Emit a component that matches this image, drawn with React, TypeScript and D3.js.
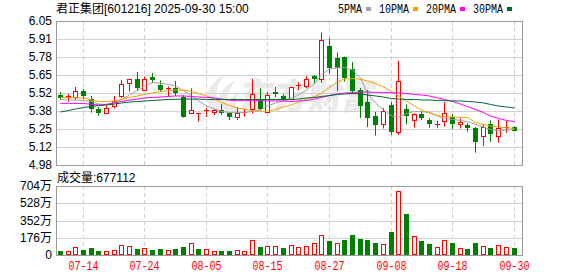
import React from 'react';
import * as d3 from 'd3';

const dates = ['07-09','07-10','07-11','07-14','07-15','07-16','07-17','07-18','07-21','07-22','07-23','07-24','07-25','07-28','07-29','07-30','07-31','08-01','08-04','08-05','08-06','08-07','08-08','08-11','08-12','08-13','08-14','08-15','08-18','08-19','08-20','08-21','08-22','08-25','08-26','08-27','08-28','08-29','09-01','09-02','09-03','09-04','09-05','09-08','09-09','09-10','09-11','09-12','09-15','09-16','09-17','09-18','09-19','09-22','09-23','09-24','09-25','09-26','09-29','09-30'];

const opens = [5.500,5.486,5.483,5.530,5.474,5.396,5.370,5.422,5.493,5.587,5.617,5.540,5.634,5.572,5.545,5.550,5.488,5.370,5.364,5.381,5.376,5.389,5.363,5.334,5.370,5.394,5.468,5.376,5.525,5.496,5.474,5.569,5.567,5.645,5.617,5.864,5.777,5.785,5.690,5.537,5.448,5.344,5.288,5.426,5.227,5.394,5.312,5.357,5.314,5.281,5.307,5.337,5.285,5.277,5.257,5.192,5.282,5.192,5.259,5.265];
const highs = [5.522,5.507,5.560,5.545,5.493,5.411,5.421,5.493,5.612,5.620,5.671,5.636,5.664,5.608,5.563,5.604,5.498,5.550,5.364,5.400,5.394,5.433,5.369,5.411,5.398,5.620,5.550,5.522,5.560,5.508,5.562,5.595,5.641,5.650,5.964,5.920,5.816,5.786,5.745,5.552,5.537,5.374,5.404,5.448,5.753,5.430,5.364,5.381,5.327,5.309,5.450,5.359,5.327,5.290,5.262,5.281,5.311,5.318,5.307,5.268];
const lows = [5.463,5.450,5.463,5.470,5.369,5.346,5.361,5.400,5.478,5.526,5.534,5.532,5.593,5.522,5.493,5.493,5.332,5.367,5.302,5.337,5.352,5.352,5.314,5.314,5.339,5.364,5.385,5.369,5.485,5.463,5.463,5.537,5.552,5.587,5.593,5.656,5.530,5.600,5.508,5.329,5.262,5.199,5.251,5.203,5.203,5.282,5.257,5.314,5.257,5.253,5.265,5.248,5.251,5.227,5.071,5.121,5.151,5.146,5.220,5.228];
const closes = [5.476,5.490,5.530,5.491,5.394,5.370,5.407,5.453,5.582,5.617,5.554,5.617,5.612,5.537,5.552,5.513,5.339,5.389,5.364,5.385,5.387,5.369,5.333,5.366,5.374,5.508,5.394,5.498,5.509,5.474,5.556,5.572,5.617,5.622,5.909,5.699,5.702,5.624,5.530,5.416,5.329,5.277,5.381,5.227,5.604,5.346,5.357,5.332,5.282,5.285,5.364,5.282,5.300,5.255,5.153,5.260,5.208,5.253,5.262,5.230];
// volume in 万
const volumes = [44,41,82,54,75,44,41,51,102,92,65,71,54,65,51,65,85,122,65,61,41,44,44,51,41,153,85,92,92,75,102,82,92,122,204,146,122,156,207,167,156,126,112,238,653,422,194,146,116,82,153,126,71,65,126,92,75,102,82,67.7112];

const ma5 = [5.467,5.463,5.463,5.459,5.452,5.433,5.430,5.444,5.467,5.500,5.534,5.567,5.593,5.589,5.578,5.567,5.534,5.493,5.456,5.418,5.396,5.378,5.370,5.369,5.370,5.378,5.389,5.418,5.441,5.456,5.478,5.500,5.537,5.586,5.652,5.693,5.703,5.704,5.686,5.626,5.515,5.441,5.389,5.344,5.337,5.363,5.378,5.375,5.372,5.344,5.326,5.320,5.311,5.302,5.281,5.262,5.244,5.236,5.240,5.245];
const ma10 = [5.482,5.482,5.479,5.478,5.463,5.452,5.450,5.456,5.467,5.482,5.493,5.504,5.515,5.525,5.532,5.537,5.537,5.526,5.511,5.493,5.470,5.444,5.422,5.404,5.394,5.385,5.378,5.381,5.392,5.411,5.426,5.448,5.470,5.489,5.511,5.556,5.597,5.619,5.623,5.617,5.604,5.586,5.560,5.526,5.493,5.456,5.418,5.389,5.366,5.348,5.340,5.337,5.334,5.333,5.296,5.281,5.270,5.262,5.256,5.253];
const ma20 = [5.438,5.438,5.438,5.437,5.431,5.426,5.430,5.441,5.452,5.463,5.470,5.478,5.482,5.485,5.489,5.493,5.493,5.489,5.485,5.483,5.478,5.470,5.461,5.458,5.458,5.458,5.458,5.456,5.456,5.456,5.452,5.456,5.459,5.470,5.482,5.496,5.508,5.515,5.517,5.522,5.522,5.520,5.519,5.517,5.515,5.511,5.504,5.500,5.493,5.478,5.467,5.452,5.433,5.415,5.392,5.370,5.344,5.326,5.311,5.302];
const ma30 = [5.374,5.385,5.396,5.407,5.415,5.422,5.426,5.433,5.441,5.448,5.452,5.456,5.459,5.463,5.467,5.468,5.470,5.470,5.470,5.467,5.467,5.467,5.467,5.467,5.467,5.467,5.467,5.467,5.467,5.467,5.467,5.470,5.478,5.482,5.489,5.496,5.504,5.508,5.511,5.508,5.500,5.493,5.485,5.474,5.470,5.467,5.467,5.463,5.463,5.459,5.459,5.456,5.456,5.452,5.448,5.441,5.430,5.418,5.411,5.404];

const priceTickLabels = ['6.05','5.91','5.78','5.65','5.52','5.38','5.25','5.12','4.98'];
const volTicks = [704, 528, 352, 176, 0];
const xTickDates = ['07-14','07-24','08-05','08-15','08-27','09-08','09-18','09-30'];
const legendLabels = ['5PMA','10PMA','20PMA','30PMA'];
const title = '君正集团[601216] 2025-09-30 15:00';
const volumeLabel = '成交量:677112';

const RED = '#ff0000';
const GREEN = '#008000';
const MA_COLORS = ['#a0a0a0', '#f5a300', '#ff00ff', '#006633'];
const FRAME = '#999999';
const GRID = '#d0d0d0';
const SANS = '"Liberation Sans", Arial, "Noto Sans CJK SC", sans-serif';
const MONO = '"Liberation Mono", "DejaVu Sans Mono", monospace';

export default function App() {
  const pMin = 4.98, pMax = 6.05;
  const x = d3.scaleBand<string>().domain(dates).range([56.5, 517.9]);
  const col = (i: number) => Math.floor((x(dates[i]) as number) + x.bandwidth() / 2);
  const y = d3.scaleLinear().domain([pMin, pMax]).range([165, 21]);
  const yv = d3.scaleLinear().domain([0, 704]).range([255, 186]);
  const r = (v: number) => Math.round(v);

  const left = 56, right = 522;
  const pTop = r(y(pMax)), pBot = r(y(pMin));
  const vTop = r(yv(704)), vBot = r(yv(0));

  const maSeries = [ma5, ma10, ma20, ma30];
  const line = d3.line<number>().x((_, i) => col(i) + 0.5).y((v) => y(v));

  const step = (pMax - pMin) / (priceTickLabels.length - 1);

  // legend layout
  let lx = 338;
  const legendItems = legendLabels.map((lab, i) => {
    const w = lab.length * 6;
    const item = { lab, x: lx, w, sq: lx + w + 4, color: MA_COLORS[i] };
    lx = lx + w + 4 + 5 + 8;
    return item;
  });

  return (
    <svg width={578} height={276} style={{ position: 'absolute', left: 0, top: 0, background: '#fff' }}>
      <rect x={0} y={0} width={578} height={276} fill="#fff" />
      {/* title */}
      <text x={56} y={13} fontFamily={SANS} fontSize={12} fill="#000">{title}</text>
      {/* legend */}
      {legendItems.map((it) => (
        <g key={it.lab}>
          <text x={it.x} y={12.5} fontFamily={MONO} fontSize={12} textLength={it.w} lengthAdjust="spacingAndGlyphs" fill="#000">{it.lab}</text>
          <rect x={it.sq} y={7} width={5} height={4} fill={it.color} />
        </g>
      ))}

      {/* watermark */}
      <g fill="#e8e8e8" opacity={0.9}>
        <path d="M214,112 C202,100 206,84 226,74 C214,86 214,98 222,108 Z" />
        <path d="M222,112 C214,100 220,88 236,80 C226,92 226,102 232,110 Z" />
        <path d="M230,112 C226,104 230,96 240,92 C234,100 236,106 238,112 Z" />
        <text x={240} y={109} fontFamily='"Noto Sans CJK SC", sans-serif' fontWeight={900} fontSize={36} textLength={136} lengthAdjust="spacingAndGlyphs" transform="skewX(-8) translate(14,0)">东方财富</text>
      </g>

      {/* price grid */}
      {priceTickLabels.map((lab, k) => {
        const yy = r(y(pMax - k * step));
        return (
          <g key={'pg' + k}>
            {k > 0 && k < priceTickLabels.length - 1 && (
              <line x1={left} x2={right} y1={yy + 0.5} y2={yy + 0.5} stroke={GRID} />
            )}
            <text x={52} y={yy} dy="0.36em" textAnchor="end" fontFamily={SANS} fontSize={12} fill="#000">{lab}</text>
          </g>
        );
      })}
      {/* volume grid */}
      {volTicks.map((v, k) => {
        const yy = r(yv(v));
        return (
          <g key={'vg' + k}>
            {k > 0 && k < volTicks.length - 1 && (
              <line x1={left} x2={right} y1={yy + 0.5} y2={yy + 0.5} stroke={GRID} />
            )}
            <text x={52} y={yy} dy="0.36em" textAnchor="end" fontFamily={SANS} fontSize={12} fill="#000">{v === 0 ? '0' : v + '万'}</text>
          </g>
        );
      })}
      {/* vertical dashed grid + x labels */}
      {xTickDates.map((d) => {
        const i = dates.indexOf(d);
        const cx = col(i) + 0.5;
        return (
          <g key={'xt' + d}>
            <line x1={cx} x2={cx} y1={pTop} y2={pBot} stroke={GRID} strokeDasharray="4,3" />
            <line x1={cx} x2={cx} y1={vTop} y2={vBot} stroke={GRID} strokeDasharray="4,3" />
            <text x={cx} y={270} textAnchor="middle" fontFamily={MONO} fontSize={12} textLength={30} lengthAdjust="spacingAndGlyphs" fill={RED}>{d}</text>
          </g>
        );
      })}

      {/* frames */}
      <rect x={left + 0.5} y={pTop + 0.5} width={right - left} height={pBot - pTop} fill="none" stroke={FRAME} />
      <rect x={left + 0.5} y={vTop + 0.5} width={right - left} height={vBot - vTop} fill="none" stroke={FRAME} />

      {/* candles */}
      {dates.map((d, i) => {
        const c = col(i);
        const up = closes[i] >= opens[i];
        const color = up ? RED : GREEN;
        const yo = r(y(opens[i]));
        const yc = r(y(closes[i]));
        const top = Math.min(yo, yc), bot = Math.max(yo, yc);
        return (
          <g key={'c' + d}>
            <line x1={c + 0.5} x2={c + 0.5} y1={y(highs[i])} y2={y(lows[i])} stroke={color} />
            {bot - top <= 1 ? (
              <line x1={c - 2} x2={c + 3} y1={yc + 0.5} y2={yc + 0.5} stroke={color} />
            ) : up ? (
              <rect x={c - 1.5} y={top + 0.5} width={4} height={bot - top} fill="#fff" stroke={color} />
            ) : (
              <rect x={c - 2} y={top} width={5} height={bot - top} fill={color} />
            )}
          </g>
        );
      })}

      {/* moving averages */}
      {maSeries.map((s, k) => (
        <path key={'ma' + k} d={line(s) || ''} fill="none" stroke={MA_COLORS[k]} strokeWidth={1} />
      ))}

      {/* volume label */}
      <text x={57} y={182} fontFamily={SANS} fontSize={12} fill="#000">{volumeLabel}</text>

      {/* volume bars */}
      {dates.map((d, i) => {
        const c = col(i);
        const prev = i === 0 ? opens[0] : closes[i - 1];
        const up = closes[i] >= prev;
        const top = r(yv(volumes[i]));
        return up ? (
          <rect key={'v' + d} x={c - 1.5} y={top + 0.5} width={4} height={vBot - 1 - top} fill="#fff" stroke={RED} />
        ) : (
          <rect key={'v' + d} x={c - 2} y={top} width={5} height={vBot - top} fill={GREEN} />
        );
      })}
    </svg>
  );
}
